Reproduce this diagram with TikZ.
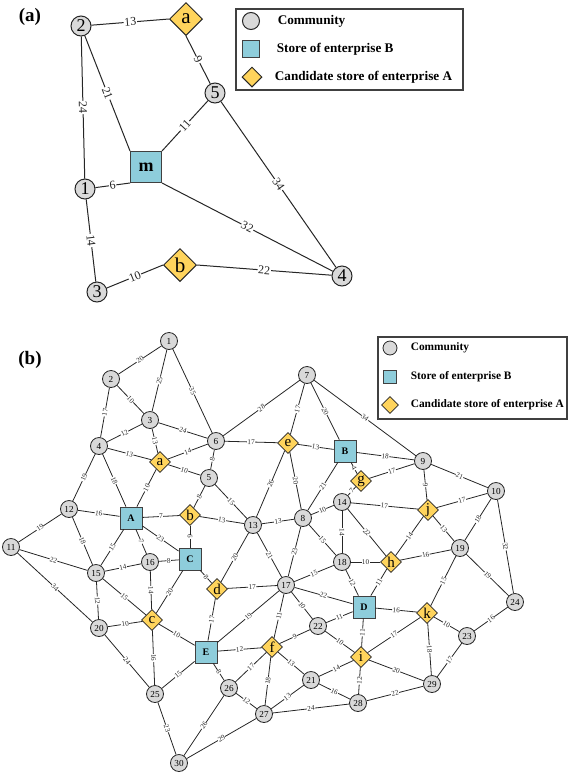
\documentclass[tikz,border=0pt]{standalone}
\usepackage{fontspec}
\setmainfont{Liberation Serif}
\usetikzlibrary{shapes.geometric,positioning}

\definecolor{commgray}{RGB}{217,217,217}
\definecolor{storeblue}{RGB}{142,205,219}
\definecolor{candyellow}{RGB}{255,212,92}

\begin{document}
\begin{tikzpicture}[
    x=0.5pt, y=-0.5pt,
    comm/.style={circle, draw=black!85, fill=commgray, inner sep=0pt, minimum size=10pt, line width=0.5pt, font=\fontsize{9}{9}\selectfont},
    storeb/.style={rectangle, draw=black!75, fill=storeblue, inner sep=0pt, minimum size=15.5pt, line width=0.5pt, font=\bfseries\fontsize{9}{9}\selectfont},
    cand/.style={diamond, draw=black!85, fill=candyellow, inner sep=0pt, minimum size=16.5pt, line width=0.5pt, font=\fontsize{10.5}{10.5}\selectfont},
    commb/.style={comm, minimum size=8.5pt, line width=0.4pt, font=\fontsize{4.6}{4.6}\selectfont},
    storebb/.style={storeb, minimum size=11pt, line width=0.4pt, font=\bfseries\fontsize{5}{5}\selectfont},
    candb/.style={cand, minimum size=10.5pt, line width=0.4pt, font=\fontsize{7.5}{7.5}\selectfont},
    link/.style={line width=0.5pt, black!85},
    linkb/.style={line width=0.4pt, black!85},
    wt/.style={midway, sloped, fill=white, inner sep=0.3pt, font=\fontsize{6}{6}\selectfont},
    wtb/.style={midway, sloped, fill=white, inner sep=0.2pt, font=\fontsize{3.6}{3.6}\selectfont},
    legbox/.style={rectangle, draw=black!75, line width=0.6pt, inner sep=0pt},
    legtxt/.style={inner sep=0pt, anchor=west, font=\bfseries\fontsize{6.6}{6.6}\selectfont},
    legtxtb/.style={legtxt, font=\bfseries\fontsize{5.7}{5.7}\selectfont},
    panel/.style={font=\bfseries\fontsize{9.5}{9.5}\selectfont}
]
\useasboundingbox (0,0) rectangle (568,772);

% ---------------- (a) small network ----------------
\node[panel] (labA) at (30,17) {(a)};

\node[comm] (p2) at (81,26) {2};
\node[cand] (pa) at (186,19) {a};
\node[comm] (p5) at (215,93) {5};
\node[storeb] (pm) at (146,167) {m};
\node[comm] (p1) at (85,189) {1};
\node[comm] (p3) at (97,292) {3};
\node[cand] (pb) at (180,265) {b};
\node[comm] (p4) at (342,276) {4};

\draw[link] (p2) -- node[wt]{13} (pa.west);
\draw[link] (pa.south) -- node[wt]{9} (p5);
\draw[link] (p2) -- node[wt]{21} (pm.north west);
\draw[link] (p2) -- node[wt]{24} (p1);
\draw[link] (p5) -- node[wt]{11} (pm.north east);
\draw[link] (p5) -- node[wt]{34} (p4);
\draw[link] (p1) -- node[wt]{6} (pm.south west);
\draw[link] (pm.south east) -- node[wt]{32} (p4);
\draw[link] (p1) -- node[wt]{14} (p3);
\draw[link] (p3) -- node[wt]{10} (pb.west);
\draw[link] (pb.east) -- node[wt]{22} (p4);

% legend (a)
\node[legbox, minimum width=113.5pt, minimum height=40.5pt] (legA) at (349.5,49.5) {};
\node[comm, minimum size=8.5pt] (lgA1) at (251,21) {};
\node[storeb, minimum size=8.5pt] (lgA2) at (251,49) {};
\node[cand, minimum size=10pt] (lgA3) at (252,77) {};
\node[legtxt, right=8.7pt of lgA1] (ltA1) {Community};
\node[legtxt, right=8.2pt of lgA2] (ltA2) {Store of enterprise B};
\node[legtxt, right=6pt of lgA3] (ltA3) {Candidate store of enterprise A};

% ---------------- (b) large network ----------------
\node[panel] (labB) at (30,360) {(b)};

% communities
\node[commb] (n1) at (169,341) {1};
\node[commb] (n2) at (111,379) {2};
\node[commb] (n3) at (150,420) {3};
\node[commb] (n4) at (99,446) {4};
\node[commb] (n5) at (209,478) {5};
\node[commb] (n6) at (216,441) {6};
\node[commb] (n7) at (307,375) {7};
\node[commb] (n8) at (303,518) {8};
\node[commb] (n9) at (423,461) {9};
\node[commb] (n10) at (496,491) {10};
\node[commb] (n11) at (11,547) {11};
\node[commb] (n12) at (69,509) {12};
\node[commb] (n13) at (253,525) {13};
\node[commb] (n14) at (342,502) {14};
\node[commb] (n15) at (96,573) {15};
\node[commb] (n16) at (150,562) {16};
\node[commb] (n17) at (286,585) {17};
\node[commb] (n18) at (342,562) {18};
\node[commb] (n19) at (460,548) {19};
\node[commb] (n20) at (99,628) {20};
\node[commb] (n21) at (311,680) {21};
\node[commb] (n22) at (318,626) {22};
\node[commb] (n23) at (467,636) {23};
\node[commb] (n24) at (515,602) {24};
\node[commb] (n25) at (155,694) {25};
\node[commb] (n26) at (229,688) {26};
\node[commb] (n27) at (264,714) {27};
\node[commb] (n28) at (358,703) {28};
\node[commb] (n29) at (432,684) {29};
\node[commb] (n30) at (179,763) {30};

% stores of enterprise B
\node[storebb] (nA) at (131,518) {A};
\node[storebb] (nB) at (345,451) {B};
\node[storebb] (nC) at (190,559) {C};
\node[storebb] (nD) at (364,607) {D};
\node[storebb] (nE) at (206,652) {E};

% candidate stores of enterprise A
\node[candb] (na) at (160,462) {a};
\node[candb] (nb) at (190,515) {b};
\node[candb] (nc) at (152,620) {c};
\node[candb] (nd) at (217,589) {d};
\node[candb] (ne) at (288,443) {e};
\node[candb] (nf) at (272,647) {f};
\node[candb] (ng) at (361,481) {g};
\node[candb] (nh) at (391,562) {h};
\node[candb] (ni) at (361,657) {i};
\node[candb] (nj) at (428,510) {j};
\node[candb] (nk) at (427,613) {k};

% weighted links
\foreach \u/\v/\w in {1/2/20, 1/3/25, 1/6/35, 2/3/10, 2/4/17, 3/4/12, 3/6/24, 3/a/13,
    6/7/28, 7/e/17, 7/B/20, 7/9/34, 4/a/13, 4/A/18, 4/12/19, a/6/14, a/5/10, a/A/10,
    6/5/8, 6/e/17, e/B/13, e/13/26, e/8/20, B/g/4, B/9/18, B/8/21, g/9/17, g/14/7,
    9/j/9, 9/10/21, 14/j/17, j/10/17, 10/19/18, 10/24/32, 14/8/10, 14/18/14, 14/h/22,
    j/h/14, j/19/13, 12/A/16, 12/11/19, 12/15/18, A/b/7, A/15/15, A/16/7, A/C/23,
    b/C/6, b/13/13, 5/b/8, 5/13/15, 13/8/13, 13/d/20, 13/17/21, 8/17/23, 8/18/15,
    11/15/22, 11/20/34, 15/16/14, 16/C/8, 15/c/15, 15/20/12, 16/c/14, C/c/20, C/d/8,
    d/17/17, d/E/17, 17/E/19, 17/f/11, 17/22/10, 17/D/22, 17/18/15, 18/h/10, 18/D/12,
    h/D/11, h/19/16, 19/k/15, 19/24/19, D/k/16, D/22/11, D/i/11, k/23/10, k/i/17,
    k/29/18, 23/24/16, 23/29/17, c/20/10, c/E/10, c/25/16, 20/25/24, E/f/12, E/25/15,
    E/26/8, f/22/9, f/26/17, f/21/13, f/27/18, 22/i/10, 21/i/14, i/28/12, i/29/20,
    21/28/16, 21/27/13, 26/27/12, 26/30/26, 25/30/23, 27/30/29, 27/28/24, 28/29/22}
  \draw[linkb] (n\u) -- node[wtb]{\w} (n\v);

% legend (b)
\node[legbox, minimum width=94.5pt, minimum height=41pt] (legB) at (472.5,378) {};
\node[commb, minimum size=7pt] (lgB1) at (390,348) {};
\node[storebb, minimum size=6.5pt] (lgB2) at (390,377) {};
\node[candb, minimum size=8.5pt] (lgB3) at (390,405) {};
\node[legtxtb, right=6.5pt of lgB1] (ltB1) {Community};
\node[legtxtb, right=6.75pt of lgB2] (ltB2) {Store of enterprise B};
\node[legtxtb, right=5.75pt of lgB3] (ltB3) {Candidate store of enterprise A};

\end{tikzpicture}
\end{document}
